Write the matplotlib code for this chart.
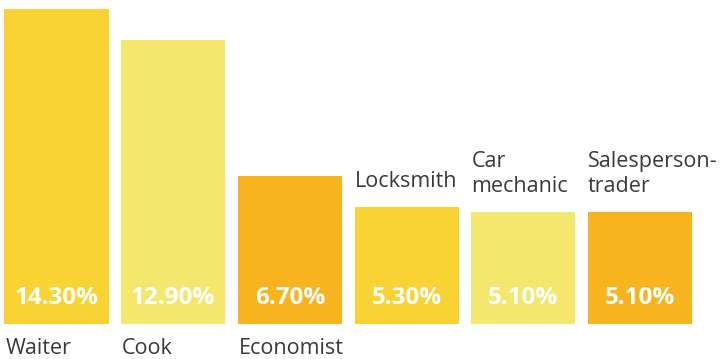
import matplotlib
matplotlib.use("Agg")
import matplotlib.pyplot as plt

# Share of job vacancies by occupation (%)
categories = ["Waiter", "Cook", "Economist", "Locksmith", "Car\nmechanic", "Salesperson-\ntrader"]
values = [14.3, 12.9, 6.7, 5.3, 5.1, 5.1]
value_labels = ["14.30%", "12.90%", "6.70%", "5.30%", "5.10%", "5.10%"]

colors = ["#F9D333", "#F3E76E", "#F8B41F", "#F9D333", "#F3E76E", "#F8B41F"]
label_side = ["below", "below", "below", "above", "above", "above"]

W, H, DPI = 721, 359, 100
fig = plt.figure(figsize=(W / DPI, H / DPI), dpi=DPI)
base_px = 324
ax = fig.add_axes([0, (H - base_px) / H, 1, base_px / H])

pitch = 116.7
bar_w = 104 / pitch
x = list(range(len(categories)))
ax.bar(x, values, width=bar_w, color=colors, linewidth=0)
ax.set_xlim(-56.5 / pitch, (W - 56.5) / pitch)
ax.set_ylim(0, 14.71)
ax.axis("off")

for i, (v, lab, cat, side) in enumerate(zip(values, value_labels, categories, label_side)):
    ax.annotate(lab, xy=(i, 0), xytext=(0, 26), textcoords="offset pixels",
                ha="center", va="center", color="white", fontsize=17.5,
                fontweight="bold", family="Open Sans", annotation_clip=False)
    left = i - bar_w / 2
    if side == "below":
        ax.annotate(cat, xy=(left, 0), xytext=(1, -30), textcoords="offset pixels",
                    ha="left", va="baseline", color="#3a3a3a", fontsize=15.5,
                    family="Open Sans", annotation_clip=False)
    else:
        ax.annotate(cat, xy=(left, v), xytext=(0, 20), textcoords="offset pixels",
                    ha="left", va="baseline", color="#3a3a3a", fontsize=15.5,
                    family="Open Sans", linespacing=1.2, annotation_clip=False)

fig.savefig("out.png", dpi=DPI)
